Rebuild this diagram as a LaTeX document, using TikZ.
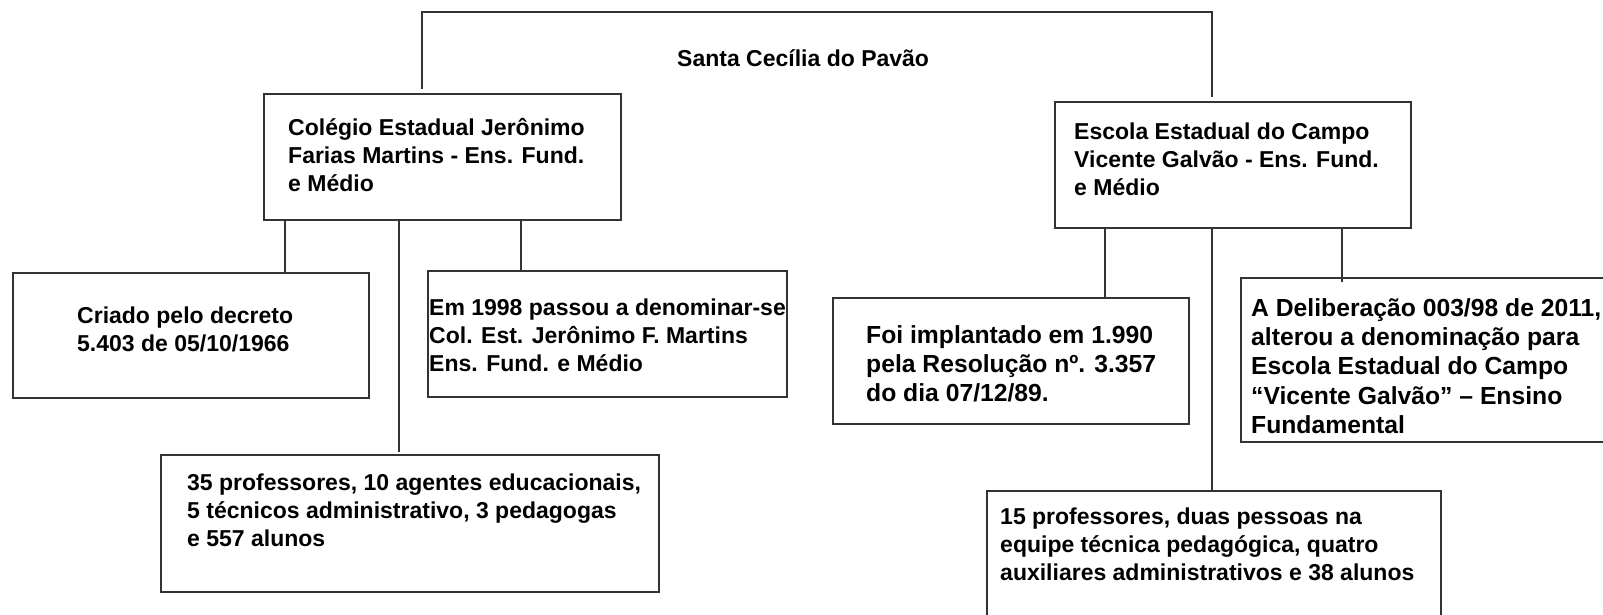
\documentclass[tikz,border=0pt]{standalone}
\usepackage{fontspec}
\setmainfont{Liberation Sans}
\usetikzlibrary{calc}
\begin{document}
\begin{tikzpicture}[x=1pt,y=-1pt,
  box/.style={draw=black!80, line width=1.6pt, anchor=north west, inner sep=0pt},
  txt/.style={anchor=north west, inner sep=0pt, align=left, font=\fontsize{23}{28}\selectfont\bfseries},
  txtb/.style={anchor=north west, inner sep=0pt, align=left, font=\fontsize{24.7}{29.3}\selectfont\bfseries},
  link/.style={draw=black!80, line width=1.5pt}]
\useasboundingbox (0,0) rectangle (1603,614);
\clip (0,0) rectangle (1603,614);
% boxes
\node[box, minimum width=357pt, minimum height=126pt] (col) at (263,93) {};
\node[box, minimum width=356pt, minimum height=126pt] (esc) at (1054,101) {};
\node[box, minimum width=356pt, minimum height=125pt] (cri) at (12,272) {};
\node[box, minimum width=359pt, minimum height=126pt] (em) at (427,270) {};
\node[box, minimum width=498pt, minimum height=137pt] (bl) at (160,454) {};
\node[box, minimum width=356pt, minimum height=126pt] (foi) at (832,297) {};
\node[box, minimum width=420pt, minimum height=164pt] (del) at (1240,277) {};
\node[box, minimum width=454pt, minimum height=170pt] (br) at (986,490) {};
% texts
\node[txt] (topT) at (677,46.4) {\strut Santa Cecília do Pavão};
\node[txt] (colT) at (288,115.4) {\strut Colégio Estadual Jerônimo\\Farias Martins - Ens. Fund.\\e Médio};
\node[txt] (escT) at (1074,119.4) {\strut Escola Estadual do Campo\\Vicente Galvão - Ens. Fund.\\e Médio};
\node[txt] (criT) at (77,303.4) {\strut Criado pelo decreto\\5.403 de 05/10/1966};
\node[txt] (emT) at (429,295.4) {\strut Em 1998 passou a denominar-se\\Col. Est. Jerônimo F. Martins\\Ens. Fund. e Médio};
\node[txt] (blT) at (187,470.4) {\strut 35 professores, 10 agentes educacionais,\\5 técnicos administrativo, 3 pedagogas\\e 557 alunos};
\node[txtb] (foiT) at (866,322.5) {\strut Foi implantado em 1.990\\pela Resolução nº. 3.357\\do dia 07/12/89.};
\node[txtb] (delT) at (1251,295.5) {\strut A Deliberação 003/98 de 2011,\\alterou a denominação para\\Escola Estadual do Campo\\“Vicente Galvão” – Ensino\\Fundamental};
\node[txt] (brT) at (1000,504.4) {\strut 15 professores, duas pessoas na\\equipe técnica pedagógica, quatro\\auxiliares administrativos e 38 alunos};
% connector positions
\coordinate (t1) at (422,12);
\coordinate (t2) at (1212,12);
\coordinate (c1) at (285,0);
\coordinate (c2) at (399,0);
\coordinate (c3) at (521,0);
\coordinate (c4) at (1105,0);
\coordinate (c5) at (1212,0);
\coordinate (c6) at (1342,0);
% connectors
\draw[link] ($(col.north -| t1)+(0,-4)$) -- (t1) -- (t2) -- ($(esc.north -| t2)+(0,-4)$);
\draw[link] (col.south -| c1) -- (cri.north -| c1);
\draw[link] (col.south -| c2) -- ($(bl.north -| c2)+(0,-2)$);
\draw[link] (col.south -| c3) -- (em.north -| c3);
\draw[link] (esc.south -| c4) -- (foi.north -| c4);
\draw[link] (esc.south -| c5) -- (br.north -| c5);
\draw[link] (esc.south -| c6) -- ($(del.north -| c6)+(0,5)$);
\end{tikzpicture}
\end{document}
